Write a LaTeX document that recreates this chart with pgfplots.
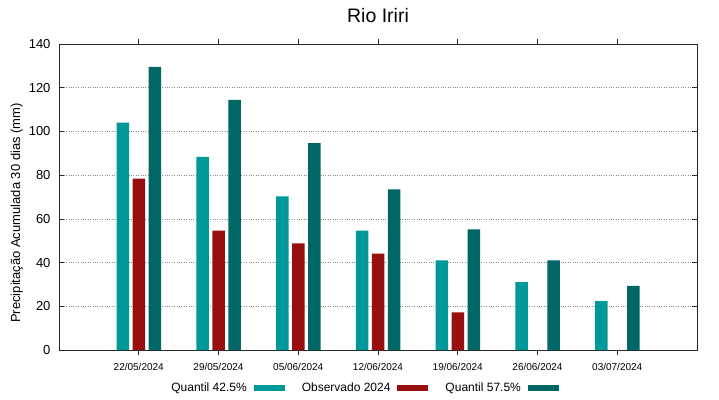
\documentclass[border=0pt]{standalone}
\usepackage{fontspec}
\setmainfont{Liberation Sans}
\usepackage{pgfplots}
\pgfplotsset{compat=1.18}
\definecolor{qlo}{HTML}{009999}
\definecolor{obs}{HTML}{990F0F}
\definecolor{qhi}{HTML}{006666}
\begin{document}
\begin{tikzpicture}
\path[use as bounding box] (0,0) rectangle (719pt,399pt);
\begin{axis}[
  at={(59pt,49pt)}, anchor=south west,
  scale only axis, width=638pt, height=306pt,
  xmin=-1, xmax=7, ymin=0, ymax=140,
  xtick={0,1,2,3,4,5,6},
  xticklabels={22/05/2024,29/05/2024,05/06/2024,12/06/2024,19/06/2024,26/06/2024,03/07/2024},
  ytick={0,20,40,60,80,100,120,140},
  /pgf/number format/assume math mode=true,
  ymajorgrids,
  grid style={black!45, dash pattern=on 0.8pt off 1.6pt, line width=0.6pt},
  axis line style={black!85, line width=0.8pt},
  major tick length=5pt,
  tick style={black!85, line width=0.6pt},
  xticklabel style={font=\fontsize{10}{12}\selectfont, yshift=-5pt},
  yticklabel style={font=\fontsize{13}{15}\selectfont, xshift=-5pt},
  ylabel={Precipitação Acumulada 30 dias (mm)},
  ylabel style={font=\fontsize{13}{15}\selectfont, xshift=-16pt, yshift=-1pt},
  title={Rio Iriri},
  title style={font=\fontsize{19.5}{22}\selectfont, yshift=12pt},
  ybar, bar width=12.5pt,
  legend plot pos=right,
  legend style={draw=none, fill=none, at={(0.168,-0.124)}, anchor=west,
    legend columns=3, font=\fontsize{12}{14}\selectfont,
    /tikz/every even column/.append style={column sep=15pt},
    /tikz/every odd column/.append style={column sep=5pt}},
]
\addplot[fill=qlo, draw=none, bar shift=-16pt,
  legend image code/.code={\fill[qlo] (0pt,-3pt) rectangle (31pt,3pt);}]
  coordinates {(0,104) (1,88.4) (2,70.3) (3,54.6) (4,41.0) (5,31.1) (6,22.4)};
\addlegendentry{Quantil 42.5\%}
\addplot[fill=obs, draw=none, bar shift=0pt,
  legend image code/.code={\fill[obs] (0pt,-3pt) rectangle (31pt,3pt);}]
  coordinates {(0,78.4) (1,54.6) (2,48.8) (3,44.1) (4,17.2)};
\addlegendentry{Observado 2024}
\addplot[fill=qhi, draw=none, bar shift=16pt,
  legend image code/.code={\fill[qhi] (0pt,-3pt) rectangle (31pt,3pt);}]
  coordinates {(0,129.5) (1,114.4) (2,94.7) (3,73.5) (4,55.2) (5,41.0) (6,29.3)};
\addlegendentry{Quantil 57.5\%}
\end{axis}
\end{tikzpicture}
\end{document}
